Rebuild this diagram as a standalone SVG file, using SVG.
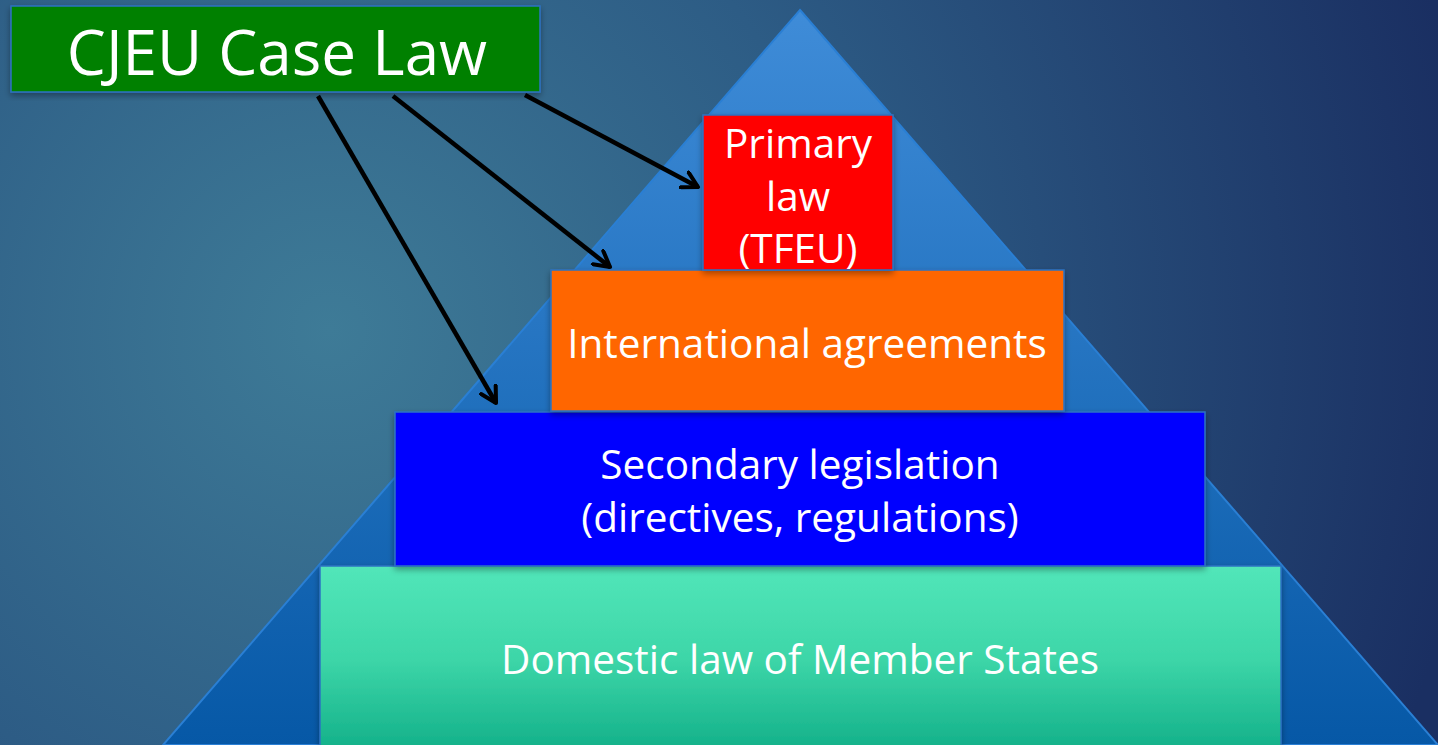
<svg xmlns="http://www.w3.org/2000/svg" width="1438" height="745" viewBox="0 0 1438 745">
  <defs>
    <radialGradient id="bg" cx="330" cy="330" r="1150" gradientUnits="userSpaceOnUse">
      <stop offset="0" stop-color="#3e7b97"/>
      <stop offset="0.45" stop-color="#2d5c85"/>
      <stop offset="1" stop-color="#1a2f62"/>
    </radialGradient>
    <linearGradient id="pyr" x1="0" y1="10" x2="0" y2="745" gradientUnits="userSpaceOnUse">
      <stop offset="0" stop-color="#3f8cd8"/>
      <stop offset="1" stop-color="#0658a6"/>
    </linearGradient>
    <linearGradient id="mint" x1="0" y1="0" x2="0" y2="1">
      <stop offset="0" stop-color="#52e6b9"/>
      <stop offset="0.5" stop-color="#3dd6a8"/>
      <stop offset="1" stop-color="#13b089"/>
    </linearGradient>
    <filter id="shadow" x="-5%" y="-5%" width="110%" height="115%">
      <feDropShadow dx="0" dy="3" stdDeviation="3" flood-color="#000" flood-opacity="0.35"/>
    </filter>
    <marker id="head" viewBox="0 0 12 12" refX="10" refY="6" markerWidth="4.5" markerHeight="4.5" orient="auto" markerUnits="strokeWidth">
      <path d="M1,1 L10,6 L1,11" fill="none" stroke="#000" stroke-width="2.4" stroke-linecap="round" stroke-linejoin="round"/>
    </marker>
  </defs>
  <style>
    .box { stroke: #2b73c2; stroke-width: 1.5; filter: url(#shadow); }
    .lbl { font-family: "Open Sans", "Noto Sans", sans-serif; fill: #ffffff; text-anchor: middle; }
    .arrow { stroke: #000; stroke-width: 4.5; fill: none; marker-end: url(#head); }
  </style>

  <rect width="1438" height="745" fill="url(#bg)"/>

  <!-- pyramid backdrop -->
  <polygon points="800,10 1438,745 163,745" fill="url(#pyr)" stroke="#2a7fd4" stroke-width="2"/>

  <g id="domestic">
    <rect class="box" x="320" y="566" width="961" height="185" fill="url(#mint)"/>
    <text class="lbl" x="800" y="674" font-size="40.5">Domestic law of Member States</text>
  </g>

  <g id="secondary">
    <rect class="box" x="395" y="412" width="810" height="154" fill="#0000ff"/>
    <text class="lbl" x="800" y="479" font-size="40.5">Secondary legislation</text>
    <text class="lbl" x="800" y="532" font-size="40.5">(directives, regulations)</text>
  </g>

  <g id="international">
    <rect class="box" x="551" y="270" width="513" height="141" fill="#ff6600"/>
    <text class="lbl" x="807" y="358" font-size="40.5">International agreements</text>
  </g>

  <g id="primary">
    <rect class="box" x="703" y="115" width="190" height="155" fill="#ff0000"/>
    <text class="lbl" x="798" y="158" font-size="40.5">Primary</text>
    <text class="lbl" x="798" y="211" font-size="40.5">law</text>
    <text class="lbl" x="798" y="263" font-size="40.5">(TFEU)</text>
  </g>

  <g id="connectors">
    <line class="arrow" x1="525" y1="95" x2="698" y2="187"/>
    <line class="arrow" x1="393" y1="96" x2="610" y2="267"/>
    <line class="arrow" x1="318" y1="96" x2="496" y2="403"/>
  </g>

  <g id="case-law">
    <rect class="box" x="11" y="6" width="529" height="86" fill="#008000"/>
    <text class="lbl" x="277" y="75" font-size="62">CJEU Case Law</text>
  </g>
</svg>
